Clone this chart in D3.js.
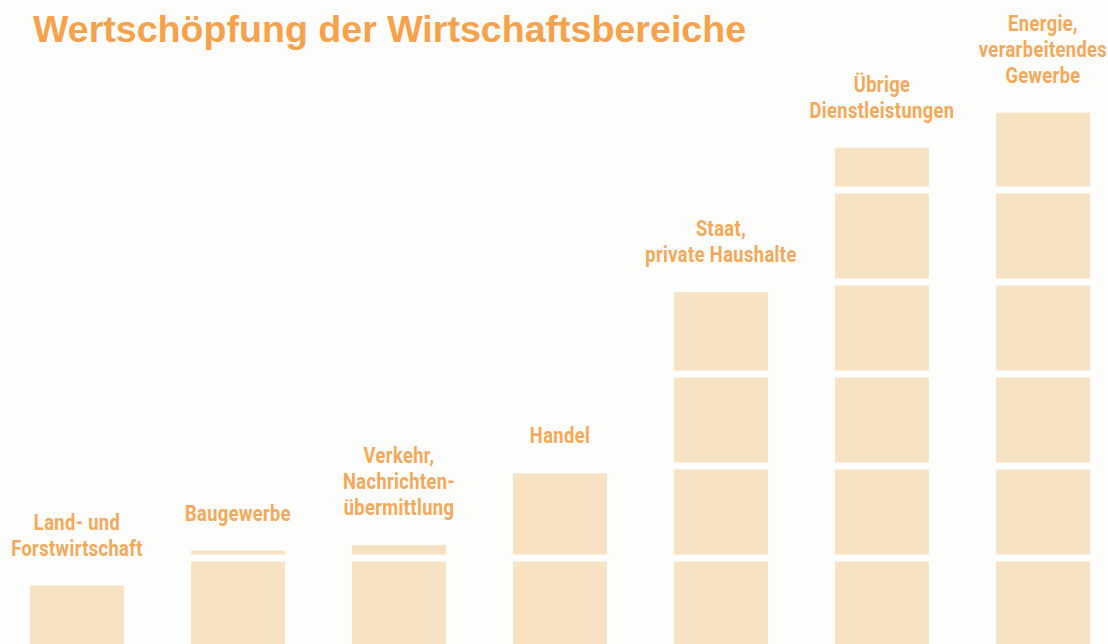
<!DOCTYPE html>
<html lang="de">
<head>
  <meta charset="UTF-8" />
  <title>Wertschöpfung der Wirtschaftsbereiche</title>
  <style>
    body {
      margin: 0;
      background: #fdfdfb;
      overflow: hidden;
    }
    .title {
      font-family: 'Liberation Sans', Arial, sans-serif;
      font-weight: bold;
      font-size: 37.6px;
      fill: #f7a24a;
    }
    .label {
      font-family: 'Roboto', 'Liberation Sans', sans-serif;
      font-weight: bold;
      font-size: 22px;
      letter-spacing: 0.5px;
      fill: #f5a857;
    }
  </style>
</head>
<body>
  <div id="chart"></div>

  <script src="https://d3js.org/d3.v7.min.js"></script>
  <script>
    // sectors, left to right (label lines as printed)
    const categories = [
      ["Land- und", "Forstwirtschaft"],
      ["Baugewerbe"],
      ["Verkehr,", "Nachrichten-", "übermittlung"],
      ["Handel"],
      ["Staat,", "private Haushalte"],
      ["Übrige", "Dienstleistungen"],
      ["Energie,", "verarbeitendes", "Gewerbe"]
    ];
    // value in blocks (one block = one unit)
    const values = [0.70, 1.08, 1.14, 1.92, 3.89, 5.46, 5.84];

    const width = 1108;
    const height = 644;
    const gap = 7;
    const squeeze = 0.83; // the printed labels use a condensed face

    const svg = d3.select("#chart")
                  .append("svg")
                  .attr("width", width)
                  .attr("height", height);

    const x = d3.scaleBand()
                .domain(d3.range(categories.length))
                .range([-3.5, 1123.5])
                .paddingInner(0.416)
                .paddingOuter(0.208);

    // baseline sits a little below the picture edge
    const y = d3.scaleLinear()
                .domain([0, 6])
                .range([650, 650 - 6 * 92]);

    svg.append("text")
       .attr("class", "title")
       .attr("x", 33)
       .attr("y", 42)
       .text("Wertschöpfung der Wirtschaftsbereiche");

    // split each bar into stacked blocks
    const blocks = [];
    values.forEach((v, i) => {
      for (let k = 0; k < Math.ceil(v); k++) {
        const hi = Math.min(k + 1, v);
        const top = y(hi) + (hi < v ? gap / 2 : 0);
        const bottom = k === 0 ? y(0) : y(k) - gap / 2;
        blocks.push({ i, top, bottom });
      }
    });

    svg.selectAll(".block")
       .data(blocks)
       .enter()
       .append("rect")
       .attr("class", "block")
       .attr("x", d => x(d.i))
       .attr("width", x.bandwidth())
       .attr("y", d => d.top)
       .attr("height", d => Math.max(0, d.bottom - d.top))
       .style("fill", "#f7e3c2");

    const labels = svg.selectAll(".label")
                      .data(categories)
                      .enter()
                      .append("text")
                      .attr("class", "label")
                      .attr("text-anchor", "middle")
                      .attr("transform", (d, i) =>
                        `translate(${x(i) + x.bandwidth() / 2},0) scale(${squeeze},1)`);

    labels.selectAll("tspan")
          .data((lines, i) => lines.map((t, j) => ({
            t,
            yy: y(values[i]) - 30 - (lines.length - 1 - j) * 26
          })))
          .enter()
          .append("tspan")
          .attr("x", 0)
          .attr("y", d => d.yy)
          .text(d => d.t);
  </script>
</body>
</html>
